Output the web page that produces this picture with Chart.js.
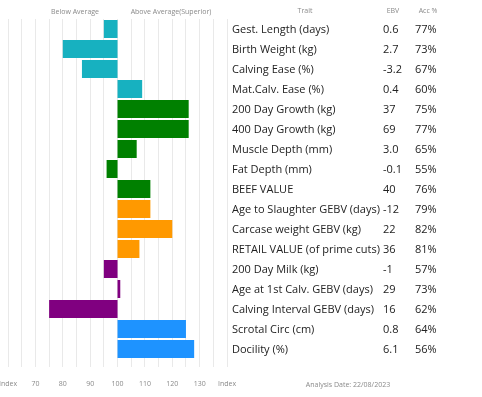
<!DOCTYPE html>
<html>
<head>
<meta charset="utf-8">
<script src="https://cdn.jsdelivr.net/npm/chart.js@4"></script>
<style>
    body { margin: 0; background: #fff; }
    #wrap { position: relative; width: 482px; height: 397px; overflow: hidden; font-family: "Open Sans", sans-serif; }
    #chart { position: absolute; left: -14px; top: 0; }
    .small { position: absolute; font-size: 7px; color: #8a8a8a; white-space: nowrap; transform: translateX(-50%); }
    .row { position: absolute; left: 232px; height: 20px; line-height: 20px; font-size: 11px; color: #222; white-space: nowrap; }
    .row span { position: absolute; top: 0; }
</style>
</head>
<body>
<div id="wrap">
    <canvas id="chart" width="496" height="397"></canvas>
    <div class="small" style="left:75px; top:7px;">Below Average</div>
    <div class="small" style="left:171px; top:7px;">Above Average(Superior)</div>
    <div class="small" style="left:305px; top:6px;">Trait</div>
    <div class="small" style="left:393px; top:6px;">EBV</div>
    <div class="small" style="left:428px; top:6px;">Acc %</div>
    <div class="small" style="left:348px; top:380px;">Analysis Date: 22/08/2023</div>
    <div id="table"></div>
</div>
<script>
const traits = ['Gest. Length (days)', 'Birth Weight (kg)', 'Calving Ease (%)', 'Mat.Calv. Ease (%)',
    '200 Day Growth (kg)', '400 Day Growth (kg)', 'Muscle Depth (mm)', 'Fat Depth (mm)', 'BEEF VALUE',
    'Age to Slaughter GEBV (days)', 'Carcase weight GEBV (kg)', 'RETAIL VALUE (of prime cuts)',
    '200 Day Milk (kg)', 'Age at 1st Calv. GEBV (days)', 'Calving Interval GEBV (days)',
    'Scrotal Circ (cm)', 'Docility (%)'];
const ebv = ['0.6', '2.7', '-3.2', '0.4', '37', '69', '3.0', '-0.1', '40', '-12', '22', '36', '-1', '29', '16', '0.8', '6.1'];
const acc = ['77%', '73%', '67%', '60%', '75%', '77%', '65%', '55%', '76%', '79%', '82%', '81%', '57%', '73%', '62%', '64%', '56%'];
const indexValues = [95, 80, 87, 109, 126, 126, 107, 96, 112, 112, 120, 108, 95, 101, 75, 125, 128];
const groups = [0, 0, 0, 0, 1, 1, 1, 1, 1, 2, 2, 2, 3, 3, 3, 4, 4];
const average = 100;

const groupColors = ['#17b1c0', '#008000', '#ff9900', '#800080', '#1e93ff'];

// table on the right
const table = document.getElementById('table');
traits.forEach(function(t, i) {
    const row = document.createElement('div');
    row.className = 'row';
    row.style.top = (19 + i * 20) + 'px';
    row.innerHTML = '<span style="left:0">' + t + '</span>' +
        '<span style="left:151px">' + ebv[i] + '</span>' +
        '<span style="left:183px">' + acc[i] + '</span>';
    table.appendChild(row);
});

const ctx = document.getElementById('chart').getContext('2d');
new Chart(ctx, {
    type: 'bar',
    data: {
        labels: traits,
        datasets: [{
            data: indexValues.map(function(v) { return [average, v]; }),
            backgroundColor: groups.map(function(g) { return groupColors[g]; }),
            borderWidth: 0,
            borderSkipped: false,
            barPercentage: 0.9,
            categoryPercentage: 1
        }]
    },
    options: {
        indexAxis: 'y',
        responsive: false,
        animation: false,
        layout: { padding: { left: 7, right: 255, top: 19, bottom: 0 } },
        plugins: { legend: { display: false }, tooltip: { enabled: false } },
        scales: {
            y: { display: false },
            x: {
                min: 60,
                max: 140,
                border: { display: false },
                grid: { color: '#e9e9e9', tickLength: 8, lineWidth: 1 },
                afterFit: function(scale) { scale.height = 38; },
                ticks: {
                    stepSize: 5,
                    autoSkip: false,
                    maxRotation: 0,
                    color: '#8a8a8a',
                    font: { size: 7, family: 'Open Sans' },
                    padding: 13,
                    callback: function(value) {
                        if (value === 60 || value === 140) return 'Index';
                        return value % 10 === 0 ? value : '';
                    }
                }
            }
        }
    }
});
</script>
</body>
</html>
